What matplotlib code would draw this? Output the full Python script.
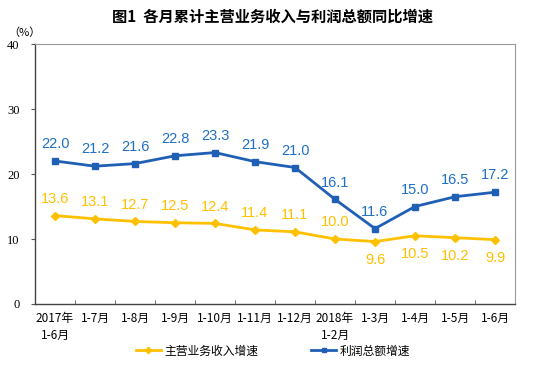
import numpy as np
import matplotlib
matplotlib.use("Agg")
import matplotlib.pyplot as plt

plt.rcParams['font.family'] = ['Noto Sans CJK SC', 'DejaVu Sans']

months = ['2017年\n1-6月', '1-7月', '1-8月', '1-9月', '1-10月', '1-11月',
          '1-12月', '2018年\n1-2月', '1-3月', '1-4月', '1-5月', '1-6月']
revenue = [13.6, 13.1, 12.7, 12.5, 12.4, 11.4, 11.1, 10.0, 9.6, 10.5, 10.2, 9.9]
profit = [22.0, 21.2, 21.6, 22.8, 23.3, 21.9, 21.0, 16.1, 11.6, 15.0, 16.5, 17.2]
rev_below = [False] * 8 + [True] * 4

orange = '#FFC000'
blue = '#1F5FB5'

fig = plt.figure(figsize=(5.46, 3.69), dpi=100)
ax = fig.add_axes([35 / 546, 1 - 304 / 369, 480 / 546, 260 / 369])

x = np.arange(len(months))
ax.plot(x, revenue, color=orange, lw=2.0, marker='D', ms=4.5, label='主营业务收入增速')
ax.plot(x, profit, color=blue, lw=2.0, marker='s', ms=4.5, label='利润总额增速')

for i in x:
    ax.annotate(f'{profit[i]:.1f}', (i, profit[i]), xytext=(0, 7), textcoords='offset points',
                ha='center', va='bottom', color='#1F6FC5', fontsize=10.5, family='Liberation Sans')
    off = -8 if rev_below[i] else 7
    ax.annotate(f'{revenue[i]:.1f}', (i, revenue[i]), xytext=(0, off), textcoords='offset points',
                ha='center', va='top' if rev_below[i] else 'bottom', color=orange,
                fontsize=10.5, family='Liberation Sans')

ax.set_xlim(-0.5, len(months) - 0.5)
ax.set_ylim(0, 40)
ax.set_yticks([0, 10, 20, 30, 40])
ax.set_yticklabels(['0', '10', '20', '30', '40'], family='Liberation Serif', fontsize=9)
ax.set_xticks(x)
ax.set_xticklabels(months, fontsize=8.5, linespacing=1.4)
ax.set_xticks(np.arange(0.5, len(months) - 0.5, 1), minor=True)
ax.tick_params(axis='x', which='major', length=0, pad=6)
ax.tick_params(axis='x', which='minor', direction='in', length=3, color='#555555')
ax.tick_params(axis='y', length=3, color='#555555', pad=8)

for s in ['top', 'right']:
    ax.spines[s].set_color('#999999')
    ax.spines[s].set_linewidth(0.8)
for s in ['left', 'bottom']:
    ax.spines[s].set_color('#444444')
    ax.spines[s].set_linewidth(1.0)

fig.text(0.5, 1 - 17 / 369, '图1  各月累计主营业务收入与利润总额同比增速', ha='center', va='center',
         fontsize=11, fontweight='bold')
fig.text(8 / 546, 1 - 33 / 369, '（%）', ha='left', va='center', fontsize=8)

fig.legend(loc='center', bbox_to_anchor=(0.5, 1 - 351 / 369), ncol=2, frameon=False,
           fontsize=8.5, handlelength=2.1, handletextpad=0.3, columnspacing=4.5, markerscale=0.7)

fig.savefig('out.png', dpi=100)
